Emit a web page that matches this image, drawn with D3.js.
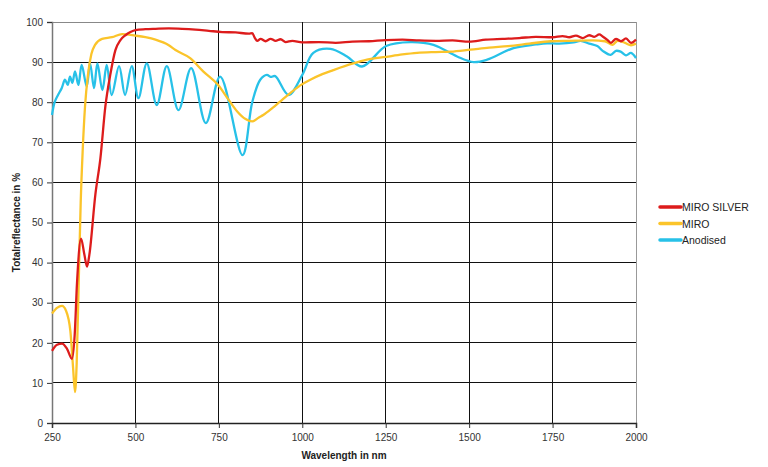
<!DOCTYPE html>
<html><head><meta charset="utf-8">
<script src="https://cdn.jsdelivr.net/npm/d3@7"></script>
<style>body{margin:0;background:#fff}svg{display:block}text{font-family:"Liberation Sans",Arial,sans-serif}</style>
</head><body><svg id="c" width="768" height="467"></svg>
<script>
const xTicks = [250, 500, 750, 1000, 1250, 1500, 1750, 2000];
const yTicks = [0, 10, 20, 30, 40, 50, 60, 70, 80, 90, 100];
const seriesNames = ["MIRO SILVER", "MIRO", "Anodised"];
const seriesColors = ["#dd1c1c", "#fbc42a", "#27c1e8"];

const miroSilver = [[250,18],[265,19.5],[280,19.8],[295,18.5],[310,16],[318,22],[325,35],[337,46],[347,42],[355,39],[362,42],[380,57],[395,66],[410,79],[425,87],[440,93],[455,95.5],[470,96.7],[485,97.5],[500,98],[530,98.2],[560,98.3],[600,98.4],[640,98.3],[680,98.1],[720,97.8],[760,97.5],[800,97.4],[840,97.1],[850,97.2],[858,96],[865,95.3],[875,95.8],[890,95.2],[905,95.8],[920,95.3],[935,95.7],[950,95],[970,95.3],[1000,94.9],[1050,95.0],[1100,94.8],[1150,95.1],[1200,95.2],[1250,95.5],[1300,95.6],[1350,95.4],[1400,95.3],[1450,95.4],[1500,95.1],[1550,95.6],[1600,95.8],[1650,96.0],[1700,96.3],[1750,96.2],[1780,96.5],[1800,96.2],[1820,96.6],[1840,96.0],[1860,96.7],[1875,96.3],[1890,96.9],[1900,96.4],[1915,95.5],[1925,94.8],[1940,95.8],[1955,95.2],[1970,95.9],[1985,94.8],[2000,95.6]];

const miro = [[250,27.3],[265,28.7],[280,29.2],[292,28],[305,23],[313,14],[319,7.7],[324,15],[330,35],[336,55],[342,68],[349,79],[358,87],[368,92],[379,94.3],[400,95.8],[430,96.2],[460,97],[500,96.6],[530,96.2],[560,95.6],[600,94.2],[620,93],[664,91],[703,87.7],[748,84.3],[780,80.5],[805,77.7],[830,75.8],[850,75.2],[870,76.2],[883,76.8],[910,78.5],[934,80.2],[960,82],[994,84.2],[1024,85.6],[1060,87],[1093,88],[1150,89.6],[1194,90.6],[1251,91.3],[1300,91.9],[1344,92.3],[1400,92.5],[1444,92.6],[1504,93.1],[1560,93.6],[1617,94.0],[1680,94.6],[1744,95.2],[1800,95.3],[1870,95.4],[1907,95.2],[1930,94.3],[1945,95.3],[1967,94.8],[1985,94.2],[2000,94.6]];

const anodised = [[250,76.8],[258,80],[268,81.8],[279,83.5],[289,85.6],[297,84.3],[304,86.4],[311,84.8],[319,87.7],[329,84.3],[339,89.3],[354,83.9],[364,89.7],[376,83.5],[386,89.7],[401,83],[414,89.3],[429,81.8],[451,89],[469,81.8],[489,89],[509,81],[534,89.7],[564,79.3],[594,89],[629,78],[667,88.5],[711,74.8],[754,86.4],[821,66.8],[850,80],[874,85.6],[894,86.8],[905,86.3],[919,86.5],[959,81.8],[1000,86.8],[1033,92.3],[1084,93.3],[1134,91.4],[1179,88.9],[1251,94],[1324,95],[1393,94.3],[1464,91.4],[1513,90],[1554,90.6],[1633,93.5],[1700,94.4],[1734,94.7],[1770,94.6],[1813,94.9],[1834,95.3],[1860,94.6],[1884,94],[1900,92.8],[1924,91.8],[1940,92.8],[1954,92.6],[1970,91.7],[1985,92.3],[2000,91]];

const svg = d3.select("#c");
const L = 52, R = 636, T = 22, B = 423;
const x = d3.scaleLinear().domain([250, 2000]).range([L, R]);
const y = d3.scaleLinear().domain([0, 100]).range([B, T]);

// gridlines
svg.append("g").selectAll("line").data(yTicks.filter(d => d > 0)).join("line")
  .attr("x1", L).attr("x2", R).attr("y1", d => y(d)).attr("y2", d => y(d))
  .attr("stroke", d => d === 100 ? "#888" : "#111").attr("stroke-width", 1).attr("shape-rendering", "crispEdges");
svg.append("g").selectAll("line").data(xTicks.filter(d => d > 250)).join("line")
  .attr("x1", d => x(d)).attr("x2", d => x(d)).attr("y1", T).attr("y2", B)
  .attr("stroke", d => d === 2000 ? "#999" : "#111").attr("stroke-width", 1).attr("shape-rendering", "crispEdges");

// axes
const yAxis = d3.axisLeft(y).tickValues(yTicks).tickSize(5).tickPadding(4);
const gy = svg.append("g").attr("transform", `translate(${L},0)`).call(yAxis);
gy.select(".domain").attr("stroke", "#777").attr("stroke-width", 1.5);
gy.selectAll(".tick line").attr("stroke", "#333");
gy.selectAll("text").attr("fill", "#333").attr("font-size", 10);

const xAxis = d3.axisBottom(x).tickValues(xTicks).tickFormat(d3.format("d")).tickSize(5).tickPadding(6);
const gx = svg.append("g").attr("transform", `translate(0,${B})`).call(xAxis);
gx.select(".domain").attr("stroke", "#222").attr("stroke-width", 1.5);
gx.selectAll(".tick line").attr("stroke", "#333");
gx.selectAll("text").attr("fill", "#333").attr("font-size", 10);

// titles
svg.append("text").attr("x", (L + R) / 2).attr("y", 459).attr("text-anchor", "middle")
  .attr("font-size", 10).attr("font-weight", "bold").attr("fill", "#222").text("Wavelength in nm");
svg.append("text").attr("transform", `translate(20,${(T + B) / 2}) rotate(-90)`).attr("text-anchor", "middle")
  .attr("font-size", 10).attr("font-weight", "bold").attr("fill", "#222").text("Totalreflectance in %");

// lines
const lineMono = d3.line().x(d => x(d[0])).y(d => y(d[1])).curve(d3.curveMonotoneX);
const lineSmooth = d3.line().x(d => x(d[0])).y(d => y(d[1])).curve(d3.curveCatmullRom.alpha(0.5));
const data = [miroSilver, miro, anodised];
[2, 1, 0].forEach(i => {
  svg.append("path").datum(data[i]).attr("d", i === 2 ? lineSmooth : lineMono).attr("fill", "none")
    .attr("stroke", seriesColors[i]).attr("stroke-width", 2.3).attr("stroke-linejoin", "round");
});

// legend
const lg = svg.append("g").attr("transform", "translate(660,207)");
seriesNames.forEach((n, i) => {
  const g = lg.append("g").attr("transform", `translate(0,${i * 16.5})`);
  g.append("line").attr("x1", 0).attr("x2", 21).attr("y1", 0).attr("y2", 0)
    .attr("stroke", seriesColors[i]).attr("stroke-width", 3.5).attr("stroke-linecap", "round");
  g.append("text").attr("x", 22).attr("y", 4).attr("font-size", 10.5).attr("fill", "#222").text(n);
});
</script></body></html>
